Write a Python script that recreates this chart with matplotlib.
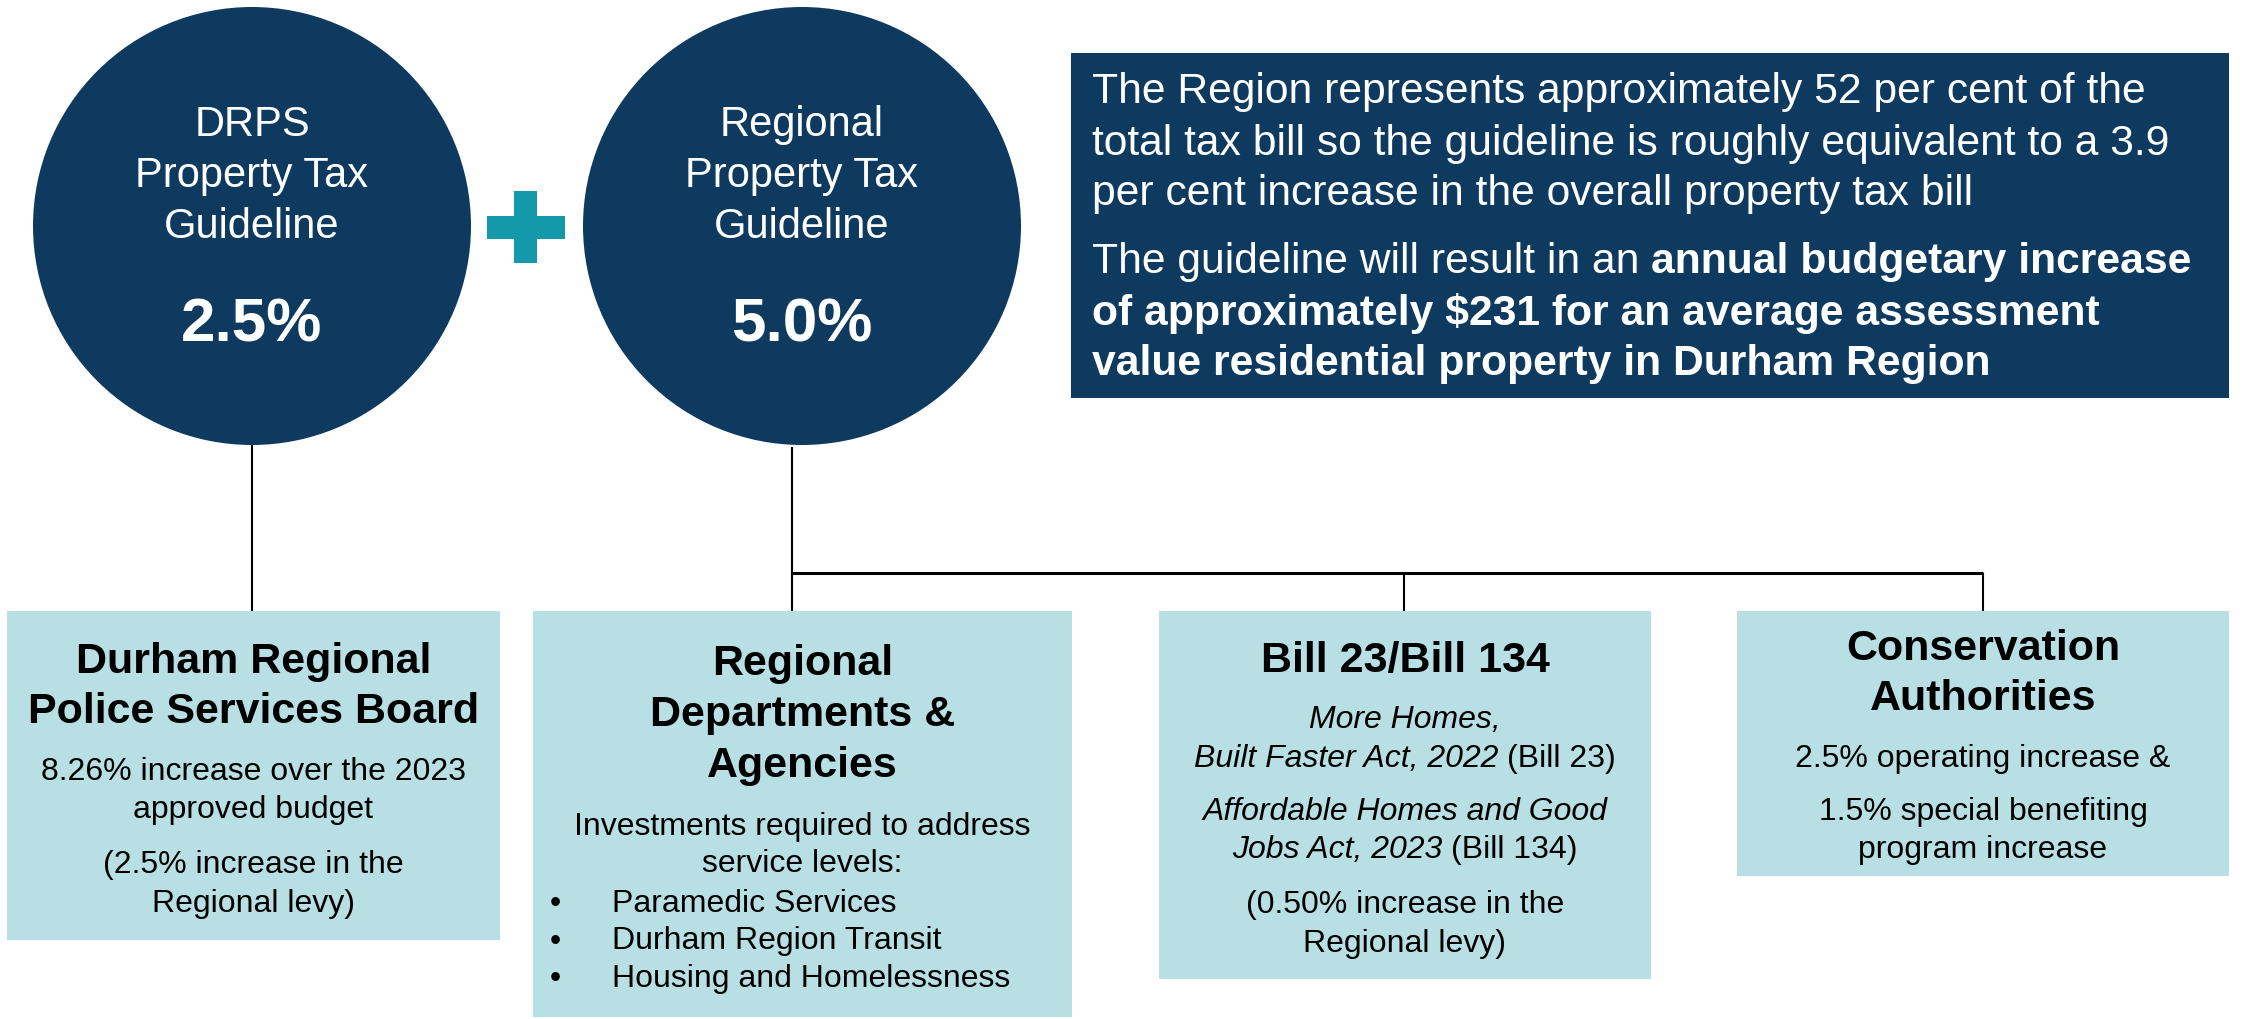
import matplotlib
matplotlib.use("Agg")
import matplotlib.pyplot as plt
from matplotlib.patches import Circle, Rectangle

# ---------------- data (text content) ----------------
guideline_names = ["DRPS\nProperty Tax\nGuideline", "Regional\nProperty Tax\nGuideline"]
guideline_rates = [2.5, 5.0]

region_share_pct = 52
overall_bill_increase_pct = 3.9
avg_budget_increase_dollars = 231

box_titles = ["Durham Regional\nPolice Services Board",
              "Regional\nDepartments &\nAgencies",
              "Bill 23/Bill 134",
              "Conservation\nAuthorities"]

police_budget_increase_pct = 8.26
police_levy_increase_pct = 2.5
bill_levy_increase_pct = 0.50
ca_operating_increase_pct = 2.5
ca_special_increase_pct = 1.5
service_items = ["Paramedic Services", "Durham Region Transit", "Housing and Homelessness"]

# ---------------- styling ----------------
NAVY = "#0E3A5F"
LIGHT = "#B8E0E4"
TEAL = "#1499AA"
FONT = "Liberation Sans"

W, H = 2244, 1019
fig = plt.figure(figsize=(W / 100, H / 100), dpi=100)
ax = fig.add_axes([0, 0, 1, 1])
ax.set_xlim(0, W)
ax.set_ylim(H, 0)
ax.axis("off")
renderer = fig.canvas.get_renderer()


def px2pt(px):
    return px * 72 / 100


def text_w(s, size, weight="normal", style="normal"):
    t = ax.text(0, 0, s, fontsize=size, fontweight=weight, fontstyle=style, family=FONT)
    w = t.get_window_extent(renderer).width
    t.remove()
    return w


def runs_line(x, y, runs, size, color="black", ha="center"):
    widths = [text_w(s, size, wt, st) for s, wt, st in runs]
    sp = text_w("a a", size) - text_w("aa", size)
    total = sum(widths) + sp * (len(runs) - 1)
    x0 = x - total / 2 if ha == "center" else x
    for (s, wt, st), w in zip(runs, widths):
        ax.text(x0, y, s, fontsize=size, fontweight=wt, fontstyle=st, family=FONT,
                color=color, ha="left", va="baseline")
        x0 += w + sp


def line(x, y, s, size, weight="normal", style="normal", color="black", ha="center"):
    ax.text(x, y, s, fontsize=size, fontweight=weight, fontstyle=style, family=FONT,
            color=color, ha=ha, va="baseline")


# ---------------- circles ----------------
circle_cx = [252, 802]
circle_cy = 226
circle_r = 219
name_size = px2pt(41.6)
rate_size = px2pt(62)
for cx, name, rate in zip(circle_cx, guideline_names, guideline_rates):
    ax.add_patch(Circle((cx, circle_cy), circle_r, facecolor=NAVY, edgecolor="none"))
    for i, ln in enumerate(name.split("\n")):
        line(cx, 136 + 51 * i, ln, name_size, color="white")
    line(cx, 341, f"{rate:.1f}%", rate_size, weight="bold", color="white")

# plus sign
pcx, pcy = 526, 227
ax.add_patch(Rectangle((pcx - 39, pcy - 11.5), 78, 23, facecolor=TEAL, edgecolor="none"))
ax.add_patch(Rectangle((pcx - 11.5, pcy - 36), 23, 72, facecolor=TEAL, edgecolor="none"))

# ---------------- top-right navy box ----------------
ax.add_patch(Rectangle((1071, 53), 1158, 345, facecolor=NAVY, edgecolor="none"))
tb_size = px2pt(42.6)
tx = 1092
top_lines = [
    [(f"The Region represents approximately {region_share_pct} per cent of the", "normal", "normal")],
    [(f"total tax bill so the guideline is roughly equivalent to a {overall_bill_increase_pct}", "normal", "normal")],
    [("per cent increase in the overall property tax bill", "normal", "normal")],
    [("The guideline will result in an", "normal", "normal"), ("annual budgetary increase", "bold", "normal")],
    [(f"of approximately ${avg_budget_increase_dollars} for an average assessment", "bold", "normal")],
    [("value residential property in Durham Region", "bold", "normal")],
]
top_baselines = [103, 155, 205, 273, 325, 375]
for runs, yb in zip(top_lines, top_baselines):
    runs_line(tx, yb, runs, tb_size, color="white", ha="left")

# ---------------- connectors ----------------
lc = "black"
ax.plot([252, 252], [circle_cy + circle_r, 611], color=lc, lw=1.5, solid_capstyle="butt")
ax.plot([792, 792], [circle_cy + circle_r + 2, 611], color=lc, lw=1.5, solid_capstyle="butt")
ax.plot([792, 1983], [573, 573], color=lc, lw=2.2, solid_capstyle="butt")
ax.plot([1404, 1404], [573, 611], color=lc, lw=1.5, solid_capstyle="butt")
ax.plot([1983, 1983], [573, 611], color=lc, lw=1.5, solid_capstyle="butt")

# ---------------- lower boxes ----------------
boxes = [(7, 611, 493, 329), (533, 611, 539, 406), (1159, 611, 492, 368), (1737, 611, 492, 265)]
for x, y, w, h in boxes:
    ax.add_patch(Rectangle((x, y), w, h, facecolor=LIGHT, edgecolor="none"))

title_size = px2pt(43)
body_size = px2pt(32)

# Box 1
cx = 7 + 493 / 2
for i, ln in enumerate(box_titles[0].split("\n")):
    line(cx, 673 + 50 * i, ln, title_size, weight="bold")
line(cx, 780, f"{police_budget_increase_pct:.2f}% increase over the 2023", body_size)
line(cx, 818, "approved budget", body_size)
line(cx, 873, f"({police_levy_increase_pct:.1f}% increase in the", body_size)
line(cx, 912, "Regional levy)", body_size)

# Box 2
cx = 533 + 539 / 2
for i, ln in enumerate(box_titles[1].split("\n")):
    line(cx, 675 + 51 * i, ln, title_size, weight="bold")
line(cx, 835, "Investments required to address", body_size)
line(cx, 872, "service levels:", body_size)
for i, item in enumerate(service_items):
    yb = 912 + 37.5 * i
    line(555, yb, "\u2022", body_size, ha="center")
    line(612, yb, item, body_size, ha="left")

# Box 3
cx = 1159 + 492 / 2
line(cx, 672, box_titles[2], title_size, weight="bold")
runs_line(cx, 728, [("More Homes,", "normal", "italic")], body_size)
runs_line(cx, 767, [("Built Faster Act, 2022", "normal", "italic"), ("(Bill 23)", "normal", "normal")], body_size)
runs_line(cx, 820, [("Affordable Homes and Good", "normal", "italic")], body_size)
runs_line(cx, 858, [("Jobs Act, 2023", "normal", "italic"), ("(Bill 134)", "normal", "normal")], body_size)
line(cx, 913, f"({bill_levy_increase_pct:.2f}% increase in the", body_size)
line(cx, 952, "Regional levy)", body_size)

# Box 4
cx = 1737 + 492 / 2
for i, ln in enumerate(box_titles[3].split("\n")):
    line(cx, 660 + 50 * i, ln, title_size, weight="bold")
line(cx, 767, f"{ca_operating_increase_pct:.1f}% operating increase &", body_size)
line(cx, 820, f"{ca_special_increase_pct:.1f}% special benefiting", body_size)
line(cx, 858, "program increase", body_size)

fig.savefig("out.png", dpi=100, facecolor="white")
